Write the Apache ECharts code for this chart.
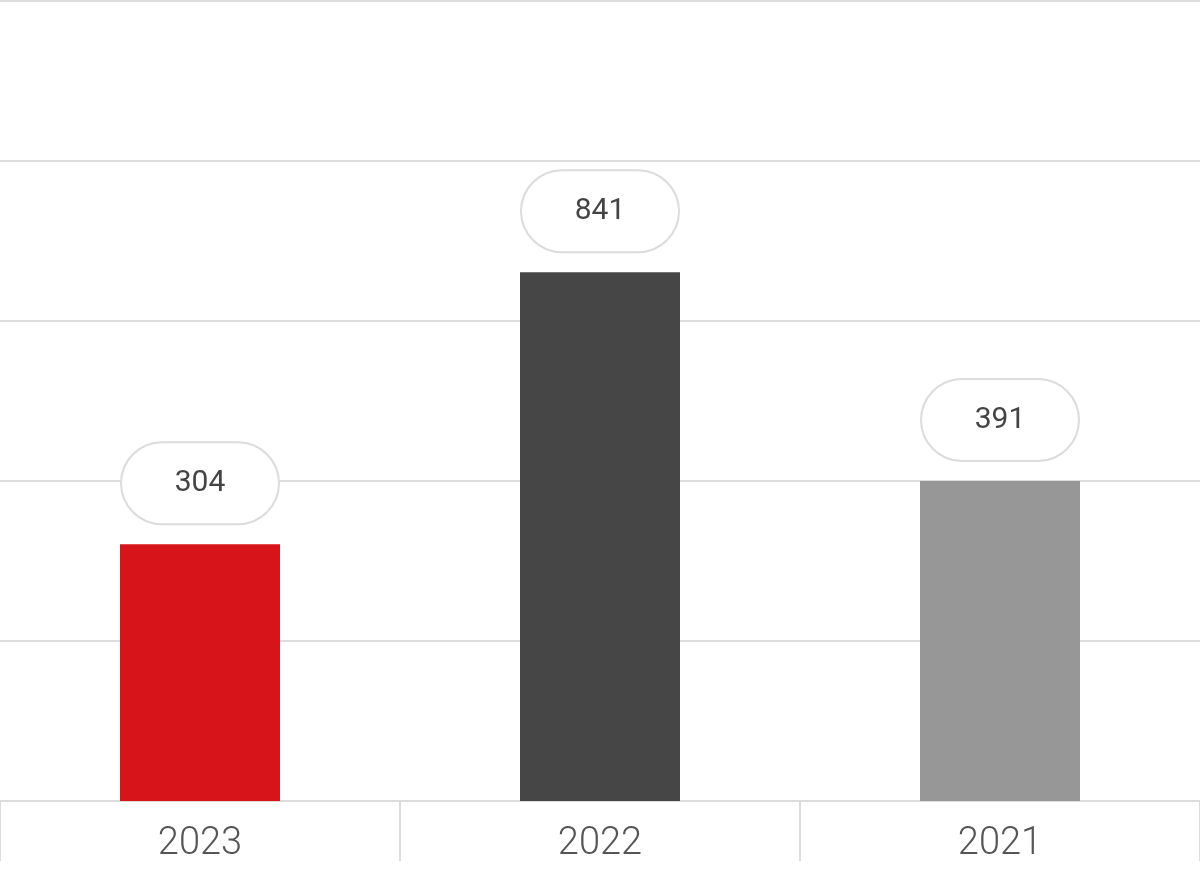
<!DOCTYPE html>
<html><head><meta charset="utf-8">
<script src="https://cdn.jsdelivr.net/npm/echarts@6/dist/echarts.min.js"></script>
<style>html,body{margin:0;padding:0;background:#fff}#c{width:1200px;height:870px}</style>
</head><body><div id="c"></div>
<script>
const categories = ['2023', '2022', '2021'];
const barValues = [321, 661, 400];
const labelValues = [304, 841, 391];
const colors = ['#d7141a', '#464646', '#979797'];

const chart = echarts.init(document.getElementById('c'));
chart.setOption({
  animation: false,
  grid: {left: 0, right: 0, top: 1, bottom: 69},
  xAxis: {
    type: 'category', data: categories,
    axisLine: {lineStyle: {color: '#dcdcdc', width: 2}},
    axisTick: {show: true, length: 60, lineStyle: {color: '#dcdcdc', width: 2}},
    axisLabel: {color: '#555', fontSize: 38, fontFamily: 'Roboto', fontWeight: 300, margin: 24}
  },
  yAxis: {
    type: 'value', min: 0, max: 1000, interval: 200,
    axisLabel: {show: false}, axisLine: {show: false}, axisTick: {show: false},
    splitLine: {lineStyle: {color: '#dcdcdc', width: 2}}
  },
  series: [{
    type: 'bar', barWidth: 160,
    data: barValues.map((v, i) => ({value: v, itemStyle: {color: colors[i]}})),
    label: {
      show: true, position: 'top', distance: 21,
      formatter: p => String(labelValues[p.dataIndex]),
      color: '#444', fontSize: 30, fontFamily: 'Roboto',
      backgroundColor: '#fff', borderColor: '#dcdcdc', borderWidth: 2, borderRadius: 41,
      width: 156, height: 80, lineHeight: 80, align: 'center'
    }
  }]
});
</script></body></html>
